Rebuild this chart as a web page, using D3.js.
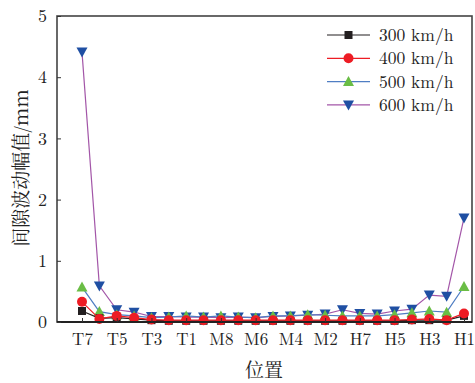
<!DOCTYPE html>
<html><head><meta charset="utf-8">
<script src="https://cdn.jsdelivr.net/npm/d3@7"></script>
<style>body{margin:0;background:#fff}svg{display:block}</style>
</head><body>
<script>
const categories = ["T7","T6","T5","T4","T3","T2","T1","M9","M8","M7","M6","M5","M4","M3","M2","M1","H7","H6","H5","H4","H3","H2","H1"];
const v300 = [0.18,0.06,0.07,0.05,0.03,0.02,0.02,0.02,0.02,0.02,0.02,0.02,0.02,0.02,0.02,0.02,0.02,0.02,0.02,0.03,0.03,0.03,0.10];
const v400 = [0.33,0.05,0.10,0.07,0.04,0.03,0.03,0.03,0.03,0.03,0.03,0.03,0.03,0.03,0.03,0.03,0.03,0.03,0.03,0.04,0.05,0.03,0.14];
const v500 = [0.57,0.17,0.12,0.10,0.07,0.08,0.10,0.08,0.10,0.08,0.07,0.10,0.10,0.12,0.11,0.10,0.10,0.10,0.12,0.15,0.18,0.16,0.58];
const v600 = [4.41,0.59,0.20,0.16,0.09,0.09,0.08,0.08,0.07,0.08,0.07,0.09,0.10,0.11,0.13,0.20,0.14,0.13,0.18,0.21,0.44,0.42,1.70];
const yTicks = [0,1,2,3,4,5];
const tickLabels = ["T7","T5","T3","T1","M8","M6","M4","M2","H7","H5","H3","H1"];
const seriesNames = ["300 km/h","400 km/h","500 km/h","600 km/h"];

const W=475,H=383;
const m={l:57,r:472,t:16,b:322};
const svg=d3.select("body").append("svg").attr("width",W).attr("height",H);
const x=d3.scalePoint().domain(categories).range([82,464]);
const y=d3.scaleLinear().domain([0,5]).range([m.b,m.t]);
const serif="'Latin Modern Roman','CMU Serif','DejaVu Serif','Liberation Serif',serif";
const cjk="'Noto Serif CJK SC','Noto Sans CJK SC',sans-serif";

const series=[
 {name:seriesNames[3],vals:v600,line:"#a356a8",fill:"#1f4fa3",shape:"tdown"},
 {name:seriesNames[2],vals:v500,line:"#4f7ec3",fill:"#6abd45",shape:"tup"},
 {name:seriesNames[0],vals:v300,line:"#231f20",fill:"#231f20",shape:"sq"},
 {name:seriesNames[1],vals:v400,line:"#ed1c24",fill:"#ed1c24",shape:"circ"}
];
function marker(g,shape,cx,cy,fill){
  if(shape==="sq") g.append("rect").attr("x",cx-4).attr("y",cy-4).attr("width",8).attr("height",8).attr("fill",fill);
  else if(shape==="circ") g.append("circle").attr("cx",cx).attr("cy",cy).attr("r",5).attr("fill",fill);
  else if(shape==="tup") g.append("path").attr("d",`M${cx-5.5},${cy+4.5}L${cx+5.5},${cy+4.5}L${cx},${cy-5.5}Z`).attr("fill",fill);
  else g.append("path").attr("d",`M${cx-5.5},${cy-4.5}L${cx+5.5},${cy-4.5}L${cx},${cy+5.5}Z`).attr("fill",fill);
}
const line=d3.line().x((d,i)=>x(categories[i])).y(d=>y(d));
series.forEach(s=>{
  const g=svg.append("g");
  g.append("path").attr("d",line(s.vals)).attr("fill","none").attr("stroke",s.line).attr("stroke-width",1.2);
  s.vals.forEach((v,i)=>marker(g,s.shape,x(categories[i]),y(v),s.fill));
});

// frame
svg.append("rect").attr("x",m.l).attr("y",m.t).attr("width",m.r-m.l).attr("height",m.b-m.t)
  .attr("fill","none").attr("stroke","#444").attr("stroke-width",1.6);
svg.append("line").attr("x1",m.l).attr("x2",m.r).attr("y1",m.b).attr("y2",m.b).attr("stroke","#222").attr("stroke-width",2);

// y axis
const ya=svg.append("g").attr("transform",`translate(${m.l},0)`)
  .call(d3.axisLeft(y).tickValues(yTicks).tickSize(-4).tickPadding(10).tickFormat(d3.format("d")));
ya.select(".domain").remove();
ya.selectAll("line").attr("stroke","#333");
ya.selectAll("text").attr("font-family",serif).attr("font-size",18).attr("fill","#222");

// x axis
const xa=svg.append("g").attr("transform",`translate(0,${m.b})`)
  .call(d3.axisBottom(x).tickValues(tickLabels).tickSize(-4).tickPadding(11));
xa.select(".domain").remove();
xa.selectAll("line").attr("stroke","#333");
xa.selectAll("text").attr("font-family",serif).attr("font-size",17).attr("fill","#222");

// titles
svg.append("text").attr("x",264).attr("y",377).attr("text-anchor","middle")
  .attr("font-family",cjk).attr("font-size",19).attr("fill","#222").text("位置");
svg.append("text").attr("transform","translate(28,168) rotate(-90)").attr("text-anchor","middle")
  .attr("font-family",cjk).attr("font-size",19).attr("fill","#222")
  .text("间隙波动幅值/mm");

// legend
const legOrder=[series[2],series[3],series[1],series[0]];
legOrder.forEach((s,i)=>{
  const yy=35+i*23.3;
  const g=svg.append("g");
  g.append("line").attr("x1",327).attr("x2",370).attr("y1",yy).attr("y2",yy).attr("stroke",s.line).attr("stroke-width",1.2);
  marker(g,s.shape,348.5,yy,s.fill);
  g.append("text").attr("x",379).attr("y",yy+6).attr("font-family",serif).attr("font-size",17.5).attr("fill","#222").text(s.name);
});
</script>
</body></html>
